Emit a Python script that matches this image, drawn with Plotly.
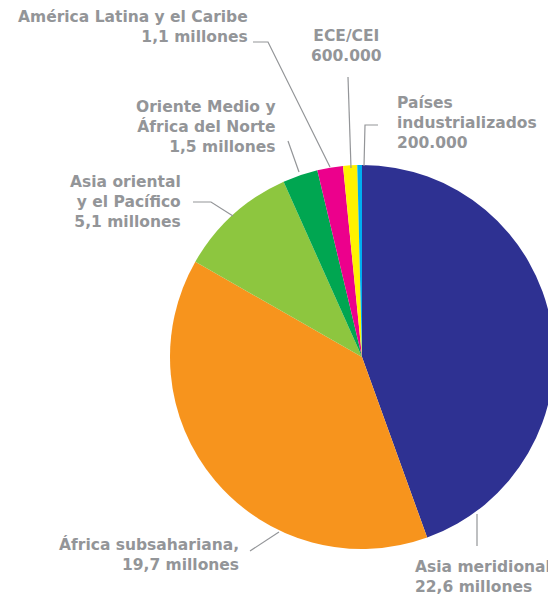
import plotly.graph_objects as go

# page body has an 8px margin, so the figure is drawn 8px in from the top-left
OFF = 8
W, H = 556 - OFF, 597 - OFF

regions = ["Asia meridional", "África subsahariana", "Asia oriental y el Pacífico",
           "Oriente Medio y África del Norte", "América Latina y el Caribe",
           "ECE/CEI", "Países industrializados"]
values = [22.6, 19.7, 5.1, 1.5, 1.1, 0.6, 0.2]
colors = ["#2E3192", "#F7941D", "#8DC63F", "#00A651", "#EC008C", "#FFF200", "#00AEEF"]

label_texts = [
    "Asia meridional<br>22,6 millones",
    "África subsahariana,<br>19,7 millones",
    "Asia oriental<br>y el Pacífico<br>5,1 millones",
    "Oriente Medio y<br>África del Norte<br>1,5 millones",
    "América Latina y el Caribe<br>1,1 millones",
    "ECE/CEI<br>600.000",
    "Países<br>industrializados<br>200.000",
]

# label placement (screen pixel positions): x, y-center, anchor, align
label_pos = [
    (413, 577, "left", "left"),
    (241, 554, "right", "right"),
    (183, 202, "right", "right"),
    (278, 127.5, "right", "right"),
    (250, 27, "right", "right"),
    (346.5, 46, "center", "center"),
    (395, 123, "left", "left"),
]

# leader lines (screen pixel polylines)
leaders = [
    [(477, 514), (477, 546)],
    [(250, 551), (279, 532)],
    [(193, 202), (211, 202), (233, 216)],
    [(288, 141), (299, 172)],
    [(253, 42), (268, 42), (330, 167)],
    [(348, 77), (351, 168)],
    [(378, 125), (365, 125), (364, 166)],
]

def px(x):
    return (x - OFF) / W

def py(y):
    return 1 - (y - OFF) / H

fig = go.Figure(go.Pie(
    labels=regions, values=values, sort=False, direction="clockwise",
    marker=dict(colors=colors, line=dict(width=0)),
    textinfo="none", hoverinfo="label+value", showlegend=False,
    domain=dict(x=[px(170), px(554)], y=[py(549), py(165)]),
))

GRAY = "#939598"
for txt, (x, y, anchor, align) in zip(label_texts, label_pos):
    fig.add_annotation(
        text="<b>" + txt + "</b>", x=px(x), y=py(y), xref="paper", yref="paper",
        xanchor=anchor, yanchor="middle", align=align, showarrow=False,
        font=dict(family="DejaVu Sans, sans-serif", size=15.5, color=GRAY),
    )

for pts in leaders:
    path = "M " + " L ".join(f"{px(a)},{py(b)}" for a, b in pts)
    fig.add_shape(type="path", path=path, xref="paper", yref="paper",
                  line=dict(color=GRAY, width=1.2))

fig.update_layout(
    width=W, height=H, margin=dict(l=0, r=0, t=0, b=0),
    paper_bgcolor="white", plot_bgcolor="white",
)

fig.write_html("out.html")
